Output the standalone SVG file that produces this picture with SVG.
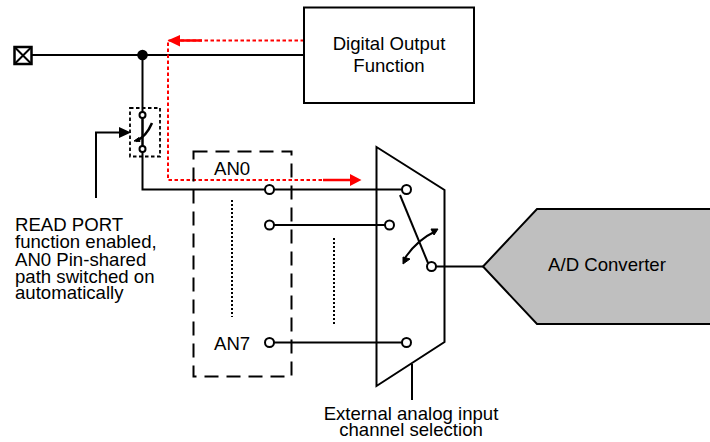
<svg xmlns="http://www.w3.org/2000/svg" width="710" height="442" viewBox="0 0 710 442">
<style>
.l{fill:none;stroke:#000;stroke-width:2}
.t{font-family:"Liberation Sans",Arial,sans-serif;font-size:18.6px;fill:#000}
.m{text-anchor:middle}
.c{fill:#fff;stroke:#000;stroke-width:2}
.r{fill:none;stroke:#f00;stroke-width:2;stroke-dasharray:3.500 2.500}
.d{fill:none;stroke:#000;stroke-width:2;stroke-dasharray:2 2}
</style>
<rect width="710" height="442" fill="#fff"/>
<g id="connectors">
<path class="l" d="M32 55H304"/>
<path class="l" d="M142.500 55V112M142.500 150V189.500H406"/>
<path class="l" d="M96 198V132.500H122"/>
<path d="M119 127L131 132.500L119 138Z"/>
<path class="l" d="M269 225H388M269 342.500H406"/>
<path class="l" d="M432 266.500H483"/>
<path class="l" d="M412 364V400"/>
<path class="l" d="M400 195L428 263"/>
<path class="l" d="M405 258Q417 240 436 231"/>
<path d="M403 264L403 257L410 259Z M438 229L431 229L434 235Z" stroke="#000"/>
<path d="M142.500 116V146" fill="none" stroke="#000" stroke-width="2.500"/>
<path d="M136 141Q146 137 152 123" fill="none" stroke="#000" stroke-width="2.500"/>
<path d="M134 141L139 137.500L140 141.500Z" stroke="#000"/>
<path class="r" d="M304 40.500H168V180H345"/>
<path d="M167.500 40.500L180 35V46.500Z M361.500 180L350 174V186Z" fill="#f00"/>
<path d="M178 40.500H202M323 180H351" fill="none" stroke="#f00" stroke-width="2.500"/>
<path class="d" d="M232 200V317M334 238V326"/>
</g>
<g id="pin"><rect x="14.500" y="47" width="17" height="17" fill="none" stroke="#000" stroke-width="2.500"/><path class="l" d="M14.500 47L31.500 64M31.500 47L14.500 64"/></g>
<g id="junction"><circle cx="142.500" cy="55" r="5.300"/></g>
<g id="switch"><rect x="130" y="108" width="30" height="48.500" fill="none" stroke="#000" stroke-width="1.800" stroke-dasharray="3.500 2.500"/><circle class="c" cx="142.500" cy="115" r="3"/><circle class="c" cx="142.500" cy="149" r="3"/></g>
<g id="digital-output"><rect class="l" x="304" y="7.500" width="170" height="95.500"/><text class="t m" x="389" y="50">Digital Output</text><text class="t m" x="389" y="72">Function</text></g>
<g id="an-box"><rect x="193.500" y="151.500" width="98" height="225" fill="none" stroke="#000" stroke-width="2" stroke-dasharray="14 8"/><text class="t" x="214" y="175">AN0</text><text class="t" x="214" y="350">AN7</text>
<circle class="c" cx="269.500" cy="189.500" r="4.500"/><circle class="c" cx="269.500" cy="225" r="4.500"/><circle class="c" cx="269.500" cy="342.500" r="4.500"/></g>
<g id="mux"><path class="l" d="M376.500 147L444.500 190V342L376.500 386Z"/><circle class="c" cx="406.500" cy="189.500" r="4.500"/><circle class="c" cx="389.500" cy="225" r="4.500"/><circle class="c" cx="431.500" cy="266.500" r="4.500"/><circle class="c" cx="406.500" cy="342.500" r="4.500"/></g>
<g id="adc"><path d="M712 209H537L483 266.500L537 324H712" fill="#bfbfbf" stroke="#000" stroke-width="2"/><text class="t m" x="607" y="271">A/D Converter</text></g>
<g id="labels"><text class="t" x="15" y="231">READ PORT</text><text class="t" x="15" y="248">function enabled,</text><text class="t" x="15" y="266">AN0 Pin-shared</text><text class="t" x="15" y="283">path switched on</text><text class="t" x="15" y="299">automatically</text>
<text class="t m" x="411" y="420">External analog input</text><text class="t m" x="411" y="436">channel selection</text></g>
</svg>
